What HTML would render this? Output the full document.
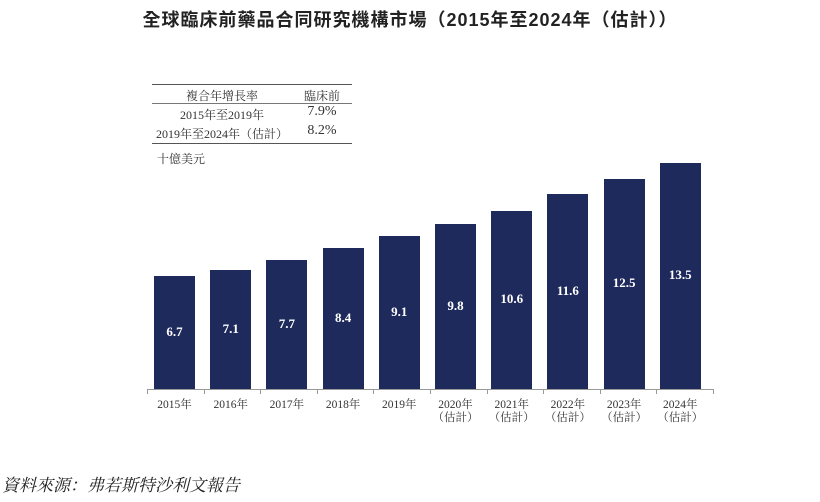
<!DOCTYPE html>
<html><head><meta charset="utf-8"><style>
body{margin:0;width:820px;height:502px;background:#fff;overflow:hidden;position:relative;font-family:"Liberation Serif","Noto Serif CJK SC",serif;color:#333}
.t{position:absolute;white-space:nowrap}
.bar{position:absolute;background:#1f2a5c;width:41px}
.v{position:absolute;width:41px;text-align:center;color:#fff;font-weight:bold;font-size:13px}
.xl{position:absolute;width:56px;text-align:center;font-size:11.5px;line-height:13px;color:#333}
</style></head><body>
<div class="t" style="left:0;width:820px;text-align:center;top:6px;font-family:'Liberation Sans','Noto Sans CJK TC',sans-serif;font-weight:bold;font-size:18px;letter-spacing:1px;color:#222">全球臨床前藥品合同研究機構市場（2015年至2024年（估計））</div>
<div style="position:absolute;left:152px;top:84px;width:200px;border-top:1px solid #555"></div>
<div style="position:absolute;left:152px;top:103px;width:200px;border-top:1px solid #777"></div>
<div style="position:absolute;left:152px;top:143px;width:200px;border-top:1px solid #555"></div>
<div class="t" style="left:152px;width:140px;text-align:center;top:87px;font-size:12px">複合年增長率</div>
<div class="t" style="left:292px;width:60px;text-align:center;top:87px;font-size:12px">臨床前</div>
<div class="t" style="left:152px;width:140px;text-align:center;top:106px;font-size:12px">2015年至2019年</div>
<div class="t" style="left:292px;width:60px;text-align:center;top:104px;font-size:14px">7.9%</div>
<div class="t" style="left:152px;width:140px;text-align:center;top:125px;font-size:12px">2019年至2024年（估計）</div>
<div class="t" style="left:292px;width:60px;text-align:center;top:123px;font-size:14px">8.2%</div>
<div class="t" style="left:157px;top:150px;font-size:12px">十億美元</div>
<div id="c"></div>
<div style="position:absolute;left:147px;top:389px;width:566px;border-top:1px solid #999"></div>
<div class="t" style="left:2px;top:471px;font-size:17px;font-style:italic;color:#222">資料來源：弗若斯特沙利文報告</div>
<script>
var v=[6.7,7.1,7.7,8.4,9.1,9.8,10.6,11.6,12.5,13.5],tops=[276,270,260,248,236,224,211,194,179,163],h='';
for(var i=0;i<10;i++){var x=154+i*56.2,t=tops[i];
h+='<div class="bar" style="left:'+x+'px;top:'+t+'px;height:'+(389-t)+'px"></div>';
h+='<div class="v" style="left:'+x+'px;top:'+((t+389)/2-9)+'px">'+v[i]+'</div>';
h+='<div class="xl" style="left:'+(x-7.5)+'px;top:399px">'+(2015+i)+'年'+(i>=5?'<br>（估計）':'')+'</div>';}
for(var i=0;i<=10;i++){h+='<div style="position:absolute;left:'+(147+i*56.6)+'px;top:389px;width:1px;height:5px;background:#999"></div>';}
document.getElementById('c').innerHTML=h;
</script>
</body></html>
